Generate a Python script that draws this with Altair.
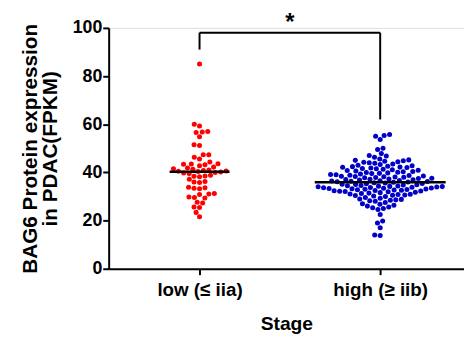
import math
import numpy as np
import pandas as pd
import altair as alt

# ---- data ----
groups = ["low (≤ iia)", "high (≥ iib)"]
colors = ["#FF0000", "#0000C8"]

low_values = [85.0, 60.0, 59.3, 57.0, 56.8, 56.6, 54.8, 51.5, 51.2, 47.3, 47.3, 46.3,
              45.6, 44.3, 43.6, 43.5, 43.4, 43.2, 42.8, 42.2, 41.8, 41.5, 41.3, 41.0,
              40.8, 40.6, 40.5, 40.4, 40.2, 40.0, 39.8, 39.5, 38.8, 38.5, 38.4, 38.2,
              37.2, 36.2, 36.0, 35.8, 33.8, 33.6, 33.4, 33.2, 31.2, 31.0, 30.8, 29.8,
              29.6, 29.4, 27.6, 27.3, 25.6, 25.4, 23.4, 21.6]

high_values = [55.7, 55.3, 55.0, 53.7, 50.0, 49.5, 47.8, 47.0, 46.8, 46.3,
               45.6, 45.2, 45.0, 44.8, 44.6, 44.4, 44.2, 44.0,
               43.8, 43.5, 43.3, 43.0, 42.8, 42.6, 42.4, 42.2, 42.1, 42.0,
               41.8, 41.6, 41.5, 41.3, 41.1, 40.9, 40.8, 40.6, 40.4, 40.3, 40.1, 40.0,
               39.8, 39.6, 39.5, 39.3, 39.1, 39.0, 38.8, 38.7, 38.5, 38.4, 38.3, 38.2, 38.1, 38.0,
               37.9, 37.8, 37.6, 37.5, 37.3, 37.2, 37.0, 36.9, 36.8, 36.6, 36.5, 36.4, 36.3, 36.2, 36.1, 36.0,
               35.9, 35.7, 35.6, 35.4, 35.3, 35.1, 35.0, 34.9, 34.8, 34.6, 34.5, 34.4, 34.3, 34.2, 34.1, 34.0,
               33.9, 33.8, 33.7, 33.6, 33.5, 33.4, 33.3, 33.2, 33.1, 33.0, 32.9, 32.8, 32.7, 32.6,
               32.5, 32.4, 32.3, 32.2, 32.1, 32.0,
               31.8, 31.6, 31.4, 31.2, 31.0, 30.9, 30.8, 30.6, 30.5, 30.4, 30.2, 30.0,
               29.6, 29.3, 29.0, 28.8, 28.6, 28.4, 28.2, 28.0,
               27.5, 27.0, 26.8, 26.4, 26.0, 25.6, 25.3, 25.0, 24.6,
               22.5, 19.8, 19.0, 17.0, 14.0, 13.8]

y_ticks = [0, 20, 40, 60, 80, 100]
bracket_y = 98
bracket_left_bottom = 91
bracket_right_bottom = 62
star_label = "*"

# ---- layout constants ----
W, H = 360, 244
Y_MAX = 100
X_DOMAIN = [-0.503, 1.464]
PX_PER_Y = H / Y_MAX
PX_PER_X = W / (X_DOMAIN[1] - X_DOMAIN[0])
DIAM = 5.6


def swarm(vals, d):
    vals = np.asarray(vals, dtype=float)
    order = np.argsort(vals)
    placed = []
    xs = np.zeros(len(vals))
    for i in order:
        y = vals[i] * PX_PER_Y
        cands = [0.0]
        for xj, yj in placed:
            dy = abs(y - yj)
            if dy < d:
                dx = math.sqrt(d * d - dy * dy)
                cands += [xj + dx, xj - dx]
        cands.sort(key=lambda c: (abs(c), c))
        chosen = 0.0
        for c in cands:
            if all((c - xj) ** 2 + (y - yj) ** 2 >= d * d - 1e-6 for xj, yj in placed):
                chosen = c
                break
        xs[i] = chosen
        placed.append((chosen, y))
    return xs


rows = []
med_rows = []
for gi, (g, vals) in enumerate(zip(groups, [low_values, high_values])):
    offs = swarm(vals, DIAM)
    for v, o in zip(vals, offs):
        rows.append({"group": g, "value": v, "x": gi + o / PX_PER_X})
    half = (np.max(np.abs(offs)) + DIAM * 0.6) / PX_PER_X
    med_rows.append({"group": g, "med": float(np.median(vals)),
                     "x1": gi - half, "x2": gi + half})

df = pd.DataFrame(rows)
med_df = pd.DataFrame(med_rows)

FONT = "Liberation Sans"

x_scale = alt.Scale(domain=X_DOMAIN, nice=False, zero=False)
y_scale = alt.Scale(domain=[0, Y_MAX], nice=False)

label_expr = "datum.value == 0 ? '" + groups[0] + "' : (datum.value == 1 ? '" + groups[1] + "' : '')"

points = alt.Chart(df).mark_circle(size=26, opacity=1).encode(
    x=alt.X("x:Q", scale=x_scale,
            axis=alt.Axis(values=[0, 1], labelExpr=label_expr, title="Stage",
                          grid=False, domainColor="black", domainWidth=2,
                          tickColor="black", tickWidth=2, tickSize=6,
                          labelFont=FONT, labelFontSize=19, labelFontWeight="bold",
                          labelColor="black", labelPadding=6,
                          titleFont=FONT, titleFontSize=19.5, titleFontWeight="bold",
                          titleColor="black", titlePadding=16)),
    y=alt.Y("value:Q", scale=y_scale,
            axis=alt.Axis(values=y_ticks, title=["BAG6 Protein expression", "in PDAC(FPKM)"],
                          grid=False, domainColor="black", domainWidth=2,
                          tickColor="black", tickWidth=2, tickSize=6,
                          labelFont=FONT, labelFontSize=18, labelFontWeight="bold",
                          labelColor="black", labelPadding=1,
                          titleFont=FONT, titleFontSize=21, titleFontWeight="bold",
                          titleColor="black", titlePadding=12, titleLineHeight=20)),
    color=alt.Color("group:N", scale=alt.Scale(domain=groups, range=colors), legend=None),
)

medians = alt.Chart(med_df).mark_rule(color="black", strokeWidth=2.5).encode(
    x=alt.X("x1:Q", scale=x_scale), x2="x2:Q", y=alt.Y("med:Q", scale=y_scale)
)

bracket_df = pd.DataFrame({
    "x": [0, 0, 1],
    "x2": [0, 1, 1],
    "y": [bracket_left_bottom, bracket_y, bracket_right_bottom],
    "y2": [bracket_y, bracket_y, bracket_y],
})
bracket = alt.Chart(bracket_df).mark_rule(color="black", strokeWidth=2).encode(
    x=alt.X("x:Q", scale=x_scale), x2="x2:Q",
    y=alt.Y("y:Q", scale=y_scale), y2="y2:Q"
)

star_df = pd.DataFrame({"x": [0.5], "y": [bracket_y], "t": [star_label]})
star = alt.Chart(star_df).mark_text(font=FONT, fontSize=24, fontWeight="bold",
                                    color="black", baseline="bottom", dy=2).encode(
    x=alt.X("x:Q", scale=x_scale), y=alt.Y("y:Q", scale=y_scale), text="t:N"
)

chart = alt.layer(points, medians, bracket, star).properties(
    width=W, height=H, autosize="none",
    padding={"left": 102, "top": 18, "right": 0, "bottom": 68},
).configure_view(stroke=None).configure(background="white")

chart.save("out.html", embed_options={"renderer": "svg", "actions": False})
